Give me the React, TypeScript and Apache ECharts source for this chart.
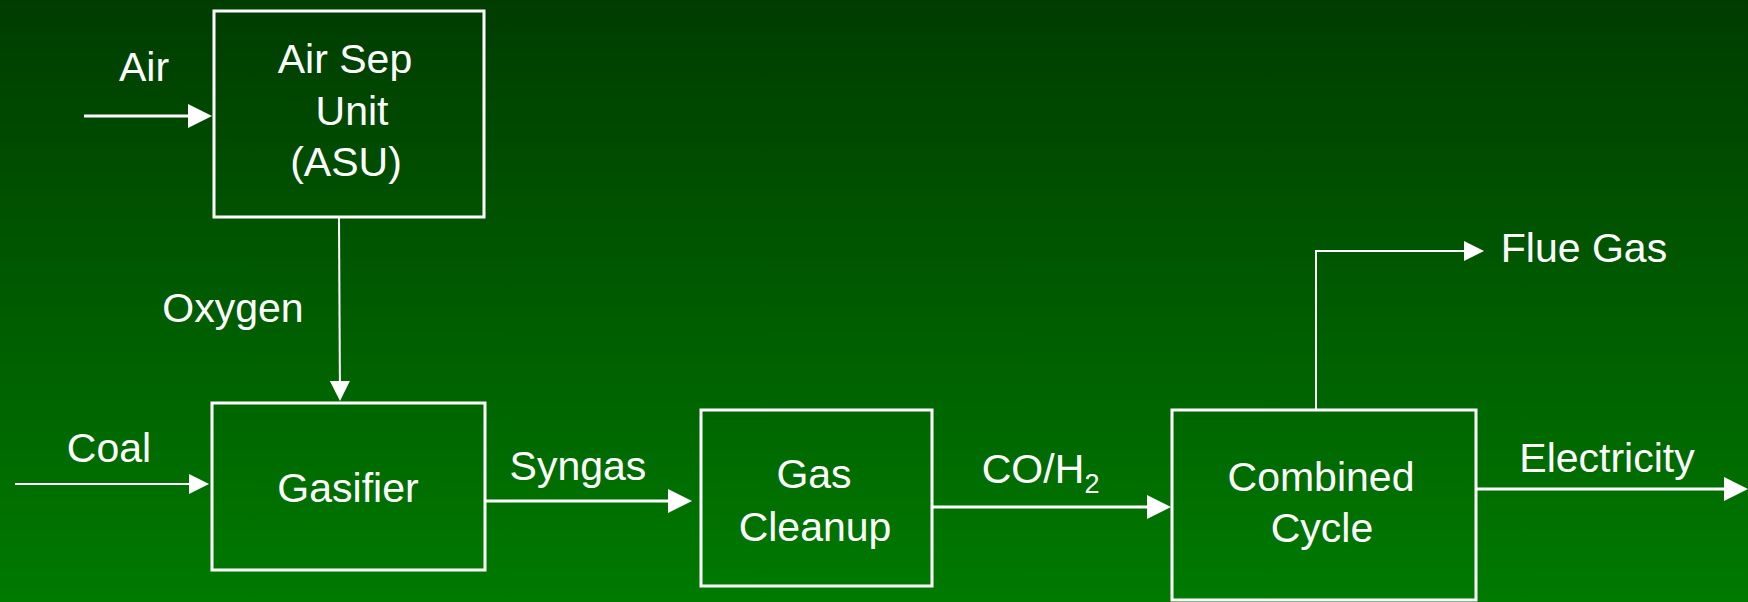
import React, { useEffect, useRef } from "react";
import * as echarts from "echarts";

const W = 1748;
const H = 602;

// Process blocks (diagram coordinates)
const blockNames = ["ASU", "Gasifier", "Gas Cleanup", "Combined Cycle"];
const blockLeft = [214, 212, 701, 1172];
const blockTop = [11, 403, 410, 410];
const blockRight = [484, 485, 932, 1476];
const blockBottom = [217, 570, 586, 600];

// Text lines inside the blocks (centre x, baseline y)
const blockLines = ["Air Sep", "Unit", "(ASU)", "Gasifier", "Gas", "Cleanup", "Combined", "Cycle"];
const blockLineX = [345, 352, 346, 348, 814, 815, 1321, 1322];
const blockLineBase = [73, 125, 176, 502, 488, 541, 491, 542];

// Stream labels (centre x, baseline y)
const streamLabels = ["Air", "Oxygen", "Coal", "Syngas", "CO/H", "2", "Flue Gas", "Electricity"];
const streamLabelX = [144, 233, 109, 578, 1033, 1092, 1584, 1607];
const streamLabelBase = [81, 322, 462, 480, 483, 493, 262, 472];
const streamLabelSub = [false, false, false, false, false, true, false, false];

// Streams (arrows) as polylines, last point = arrow tip
const streamNames = ["Air", "Oxygen", "Coal", "Syngas", "CO/H2", "Flue Gas", "Electricity"];
const streamPaths: number[][][] = [
  [[84, 116], [212, 116]],
  [[339, 218], [340, 401]],
  [[15, 484], [209, 484]],
  [[485, 501], [692, 501]],
  [[932, 507], [1171, 507]],
  [[1316, 410], [1316, 251], [1484, 251]],
  [[1476, 489], [1748, 489]],
];

const FONT = "'Liberation Sans', Arial, Helvetica, sans-serif";

export default function App() {
  const ref = useRef<HTMLDivElement>(null);
  useEffect(() => {
    document.body.style.margin = "0";
    if (!ref.current) return;
    const chart = echarts.init(ref.current, null, { renderer: "svg" });

    const thin: Record<string, boolean> = { Oxygen: true, Coal: true, "Flue Gas": true };

    const textEl = (x: number, y: number, text: string, fs: number) => ({
      type: "text",
      style: {
        text,
        x,
        y: y - 0.35 * fs,
        fill: "#ffffff",
        fontSize: fs,
        fontFamily: FONT,
        align: "center",
        verticalAlign: "middle",
      },
    });

    chart.setOption({
      animation: false,
      grid: { left: 0, right: 0, top: 0, bottom: 0 },
      xAxis: { type: "value", min: 0, max: W, show: false },
      yAxis: { type: "value", min: 0, max: H, inverse: true, show: false },
      graphic: [
        {
          type: "rect",
          z: -10,
          silent: true,
          shape: { x: 0, y: 0, width: W, height: H },
          style: {
            fill: new echarts.graphic.LinearGradient(0, 0, 0, 1, [
              { offset: 0, color: "#003c00" },
              { offset: 1, color: "#007a00" },
            ]),
          },
        },
      ],
      series: [
        {
          type: "custom",
          name: "blocks",
          clip: false,
          data: blockNames.map((_, i) => [blockLeft[i], blockTop[i], blockRight[i], blockBottom[i]]),
          renderItem: (params: any, api: any) => {
            const i = params.dataIndex;
            const p0 = api.coord([blockLeft[i], blockTop[i]]);
            const p1 = api.coord([blockRight[i], blockBottom[i]]);
            return {
              type: "rect",
              shape: { x: p0[0], y: p0[1], width: p1[0] - p0[0], height: p1[1] - p0[1] },
              style: { fill: "none", stroke: "#ffffff", lineWidth: 3 },
            };
          },
        },
        {
          type: "custom",
          name: "blockText",
          clip: false,
          data: blockLines.map((_, i) => [blockLineX[i], blockLineBase[i]]),
          renderItem: (params: any, api: any) => {
            const i = params.dataIndex;
            const p = api.coord([blockLineX[i], blockLineBase[i]]);
            return textEl(p[0], p[1], blockLines[i], 41);
          },
        },
        {
          type: "custom",
          name: "streamText",
          clip: false,
          data: streamLabels.map((_, i) => [streamLabelX[i], streamLabelBase[i]]),
          renderItem: (params: any, api: any) => {
            const i = params.dataIndex;
            const p = api.coord([streamLabelX[i], streamLabelBase[i]]);
            return textEl(p[0], p[1], streamLabels[i], streamLabelSub[i] ? 27 : 41);
          },
        },
        {
          type: "custom",
          name: "streams",
          clip: false,
          data: streamNames.map((_, i) => [streamPaths[i][0][0], streamPaths[i][0][1]]),
          renderItem: (params: any, api: any) => {
            const i = params.dataIndex;
            const pts = streamPaths[i].map((p) => api.coord(p));
            const isThin = thin[streamNames[i]];
            const len = isThin ? 20 : 24;
            const half = isThin ? 10 : 12;
            const tip = pts[pts.length - 1];
            const prev = pts[pts.length - 2];
            const dx = tip[0] - prev[0];
            const dy = tip[1] - prev[1];
            const d = Math.sqrt(dx * dx + dy * dy) || 1;
            const ux = dx / d;
            const uy = dy / d;
            const bx = tip[0] - ux * len;
            const by = tip[1] - uy * len;
            const linePts = pts.slice(0, -1).concat([[bx + ux, by + uy]]);
            return {
              type: "group",
              children: [
                {
                  type: "polyline",
                  shape: { points: linePts },
                  style: { fill: "none", stroke: "#ffffff", lineWidth: isThin ? 2 : 3 },
                },
                {
                  type: "polygon",
                  shape: {
                    points: [
                      tip,
                      [bx - uy * half, by + ux * half],
                      [bx + uy * half, by - ux * half],
                    ],
                  },
                  style: { fill: "#ffffff", stroke: "none" },
                },
              ],
            };
          },
        },
      ],
    });
    return () => chart.dispose();
  }, []);
  return <div ref={ref} style={{ width: W, height: H }} />;
}
